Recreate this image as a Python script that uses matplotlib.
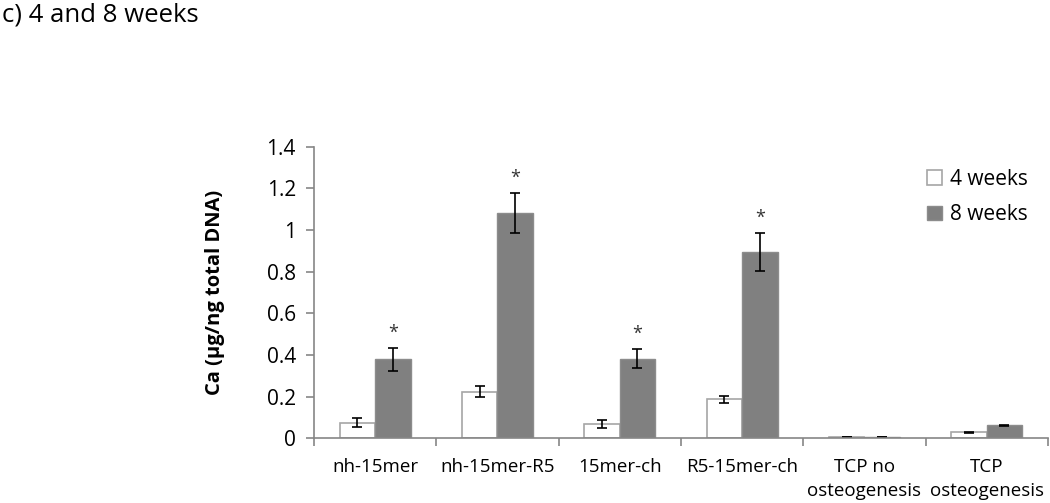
import matplotlib.pyplot as plt
import numpy as np

plt.rcParams['font.family'] = ['Open Sans', 'DejaVu Sans']

categories = ['nh-15mer', 'nh-15mer-R5', '15mer-ch', 'R5-15mer-ch',
              'TCP no\nosteogenesis', 'TCP\nosteogenesis']
week4 = [0.075, 0.223, 0.066, 0.186, 0.004, 0.028]
week4_err = [0.023, 0.027, 0.019, 0.016, 0.0, 0.002]
week8 = [0.378, 1.081, 0.382, 0.894, 0.005, 0.062]
week8_err = [0.055, 0.097, 0.044, 0.092, 0.0, 0.002]
signif = [True, True, True, True, False, False]
yticks = [0, 0.2, 0.4, 0.6, 0.8, 1, 1.2, 1.4]
yticklabels = ['0', '0.2', '0.4', '0.6', '0.8', '1', '1.2', '1.4']

fig = plt.figure(figsize=(10.5, 5.03), dpi=100, facecolor='w')
ax = fig.add_axes([0.299, 0.129, 0.699, 0.579])

x = np.arange(len(categories))
w = 0.29
ekw = dict(ecolor='k', elinewidth=1.2, capsize=3.5, capthick=1.2)
ax.bar(x - w/2, week4, w, yerr=week4_err, color='white', edgecolor='#a6a6a6',
       linewidth=1.2, error_kw=ekw, label='4 weeks')
ax.bar(x + w/2, week8, w, yerr=week8_err, color='#808080', edgecolor='#8c8c8c',
       linewidth=1.0, error_kw=ekw, label='8 weeks')

for i in range(len(categories)):
    if signif[i]:
        ax.text(x[i] + w/2, week8[i] + week8_err[i] + 0.03, '*', ha='center',
                va='bottom', fontsize=13, color='#333333')

ax.set_xlim(-0.5, len(categories) - 0.5)
ax.set_ylim(0, 1.4)
ax.set_yticks(yticks)
ax.set_yticklabels(yticklabels)
ax.set_xticks(x)
ax.set_xticklabels(categories, fontsize=13.5, linespacing=1.45)
ax.set_xticks(np.arange(len(categories) + 1) - 0.5, minor=True)
ax.tick_params(axis='x', which='major', length=0, pad=14)
ax.tick_params(axis='x', which='minor', length=6, color='#868686', width=1.2)
ax.tick_params(axis='y', labelsize=15, length=6, color='#868686', width=1.2, pad=7)
for s in ['top', 'right']:
    ax.spines[s].set_visible(False)
for s in ['left', 'bottom']:
    ax.spines[s].set_color('#868686')
    ax.spines[s].set_linewidth(1.2)

ax.set_ylabel('Ca (\u00b5g/ng total DNA)', fontsize=14.5, fontweight='bold', labelpad=30)

leg = ax.legend(loc='upper left', bbox_to_anchor=(0.81, 0.99), frameon=False,
                fontsize=15, handlelength=0.7, handleheight=0.7, handletextpad=0.4,
                labelspacing=0.7)

fig.text(0.002, 0.97, 'c) 4 and 8 weeks', fontsize=18.5, va='center', ha='left')

fig.savefig('out.png', dpi=100)
